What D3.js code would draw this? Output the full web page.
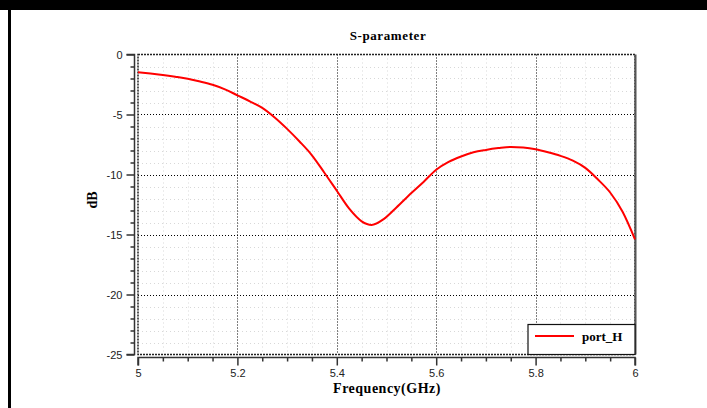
<!DOCTYPE html>
<html><head><meta charset="utf-8">
<script src="https://cdn.jsdelivr.net/npm/d3@7"></script>
<style>body{margin:0;background:#fff}svg{display:block}</style>
</head><body>
<script>
const freq = [5.0,5.025,5.05,5.075,5.1,5.125,5.15,5.175,5.2,5.225,5.25,5.275,5.3,5.325,5.35,5.375,5.4,5.425,5.45,5.47,5.495,5.52,5.55,5.575,5.6,5.625,5.65,5.675,5.7,5.725,5.75,5.775,5.8,5.825,5.85,5.875,5.9,5.925,5.95,5.975,6.0];
const dB = [-1.47,-1.58,-1.7,-1.85,-2.02,-2.25,-2.52,-2.9,-3.4,-3.9,-4.45,-5.25,-6.2,-7.25,-8.4,-9.85,-11.35,-12.85,-13.9,-14.2,-13.7,-12.75,-11.55,-10.6,-9.6,-8.95,-8.5,-8.15,-7.95,-7.8,-7.7,-7.75,-7.9,-8.15,-8.45,-8.85,-9.45,-10.4,-11.5,-13.1,-15.4];
const xTicks = [5,5.2,5.4,5.6,5.8,6];
const xTickLabels = ["5","5.2","5.4","5.6","5.8","6"];
const yTicks = [0,-5,-10,-15,-20,-25];
const yTickLabels = ["0","-5","-10","-15","-20","-25"];
const seriesName = "port_H";
const title = "S-parameter";
const xTitle = "Frequency(GHz)";
const yTitle = "dB";

const W=707,H=408;
const L=138,R=635,T=54.5,B=354.5;
const svg=d3.select("body").append("svg").attr("width",W).attr("height",H);
svg.append("rect").attr("width",W).attr("height",H).attr("fill","#fff");
svg.append("rect").attr("x",0).attr("y",0).attr("width",W).attr("height",10).attr("fill","#000");
svg.append("rect").attr("x",8).attr("y",0).attr("width",3).attr("height",H).attr("fill","#000");

const x=d3.scaleLinear().domain([5,6]).range([L,R]);
const y=d3.scaleLinear().domain([0,-25]).range([T,B]);

const minorX=d3.range(0,21).map(i=>5+i*0.05);
const minorY=d3.range(0,26).map(i=>-i);
const g=svg.append("g");
g.selectAll(".mx").data(minorX.filter(v=>Math.abs(v*5-Math.round(v*5))>1e-6)).join("line")
 .attr("x1",d=>Math.round(x(d))+0.5).attr("x2",d=>Math.round(x(d))+0.5).attr("y1",T).attr("y2",B)
 .attr("stroke","#d8d8d8").attr("stroke-dasharray","1,3");
g.selectAll(".my").data(minorY.filter(v=>v%5!==0)).join("line")
 .attr("y1",d=>Math.round(y(d))+0.5).attr("y2",d=>Math.round(y(d))+0.5).attr("x1",L).attr("x2",R)
 .attr("stroke","#d8d8d8").attr("stroke-dasharray","1,3");
g.selectAll(".Mx").data(xTicks.slice(1,-1)).join("line")
 .attr("x1",d=>Math.round(x(d))+0.5).attr("x2",d=>Math.round(x(d))+0.5).attr("y1",T).attr("y2",B)
 .attr("stroke","#000").attr("stroke-dasharray","1,2");
g.selectAll(".My").data(yTicks.slice(1,-1)).join("line")
 .attr("y1",d=>Math.round(y(d))+0.5).attr("y2",d=>Math.round(y(d))+0.5).attr("x1",L).attr("x2",R)
 .attr("stroke","#000").attr("stroke-dasharray","1,2");
svg.append("rect").attr("x",L).attr("y",T).attr("width",R-L).attr("height",B-T)
 .attr("fill","none").attr("stroke","#222").attr("stroke-width",1.5).attr("stroke-dasharray","2,1");
svg.append("line").attr("x1",R+0.5).attr("x2",R+0.5).attr("y1",T).attr("y2",B).attr("stroke","#555").attr("stroke-width",2);

const yAxis=d3.axisLeft(y).tickValues(yTicks).tickFormat((d,i)=>yTickLabels[i]).tickSize(8).tickPadding(4);
const ya=svg.append("g").attr("transform",`translate(134.5,0)`).call(yAxis);
svg.append("g").attr("transform",`translate(134.5,0)`).call(d3.axisLeft(y).tickValues(minorY.filter(v=>v%5!==0)).tickFormat("").tickSize(4))
 .select(".domain").remove();
const xAxis=d3.axisBottom(x).tickValues(xTicks).tickFormat((d,i)=>xTickLabels[i]).tickSize(8).tickPadding(4);
const xa=svg.append("g").attr("transform",`translate(0,357.5)`).call(xAxis);
svg.append("g").attr("transform",`translate(0,357.5)`).call(d3.axisBottom(x).tickValues(minorX.filter(v=>Math.abs(v*5-Math.round(v*5))>1e-6)).tickFormat("").tickSize(4))
 .select(".domain").remove();
svg.selectAll(".domain").attr("stroke","#333").attr("stroke-width",1.5);
svg.selectAll(".tick line").attr("stroke","#333").attr("stroke-width",1.5);
svg.selectAll(".tick text").attr("font-family","Liberation Sans, Arial, sans-serif").attr("font-size",11).attr("fill","#222");
ya.select(".domain").attr("d",`M-8,${T}H0V${B}H-8`);
xa.select(".domain").attr("d",`M${L},8V0H${R}V8`);

const line=d3.line().x((d,i)=>x(freq[i])).y(d=>y(d)).curve(d3.curveMonotoneX);
svg.append("path").datum(dB).attr("d",line).attr("fill","none").attr("stroke","#ff0000").attr("stroke-width",2).attr("stroke-linejoin","round");

const serif="Liberation Serif, Times New Roman, serif";
svg.append("text").attr("x",388).attr("y",40).attr("text-anchor","middle")
 .attr("font-family",serif).attr("font-weight","bold").attr("font-size",13).attr("letter-spacing",0.6).text(title);
svg.append("text").attr("x",387).attr("y",393).attr("text-anchor","middle")
 .attr("font-family",serif).attr("font-weight","bold").attr("font-size",14).attr("letter-spacing",0.5).text(xTitle);
svg.append("text").attr("transform","translate(97,200) rotate(-90)").attr("text-anchor","middle")
 .attr("font-family",serif).attr("font-weight","bold").attr("font-size",14).text(yTitle);

const lg=svg.append("g");
lg.append("rect").attr("x",528).attr("y",324.5).attr("width",107).attr("height",30).attr("fill","#fff").attr("stroke","#111").attr("stroke-width",1.2);
lg.append("line").attr("x1",535).attr("x2",574).attr("y1",336).attr("y2",336).attr("stroke","#ff0000").attr("stroke-width",2);
lg.append("text").attr("x",582).attr("y",341).attr("font-family",serif).attr("font-weight","bold").attr("font-size",13).text(seriesName);
</script>
</body></html>
